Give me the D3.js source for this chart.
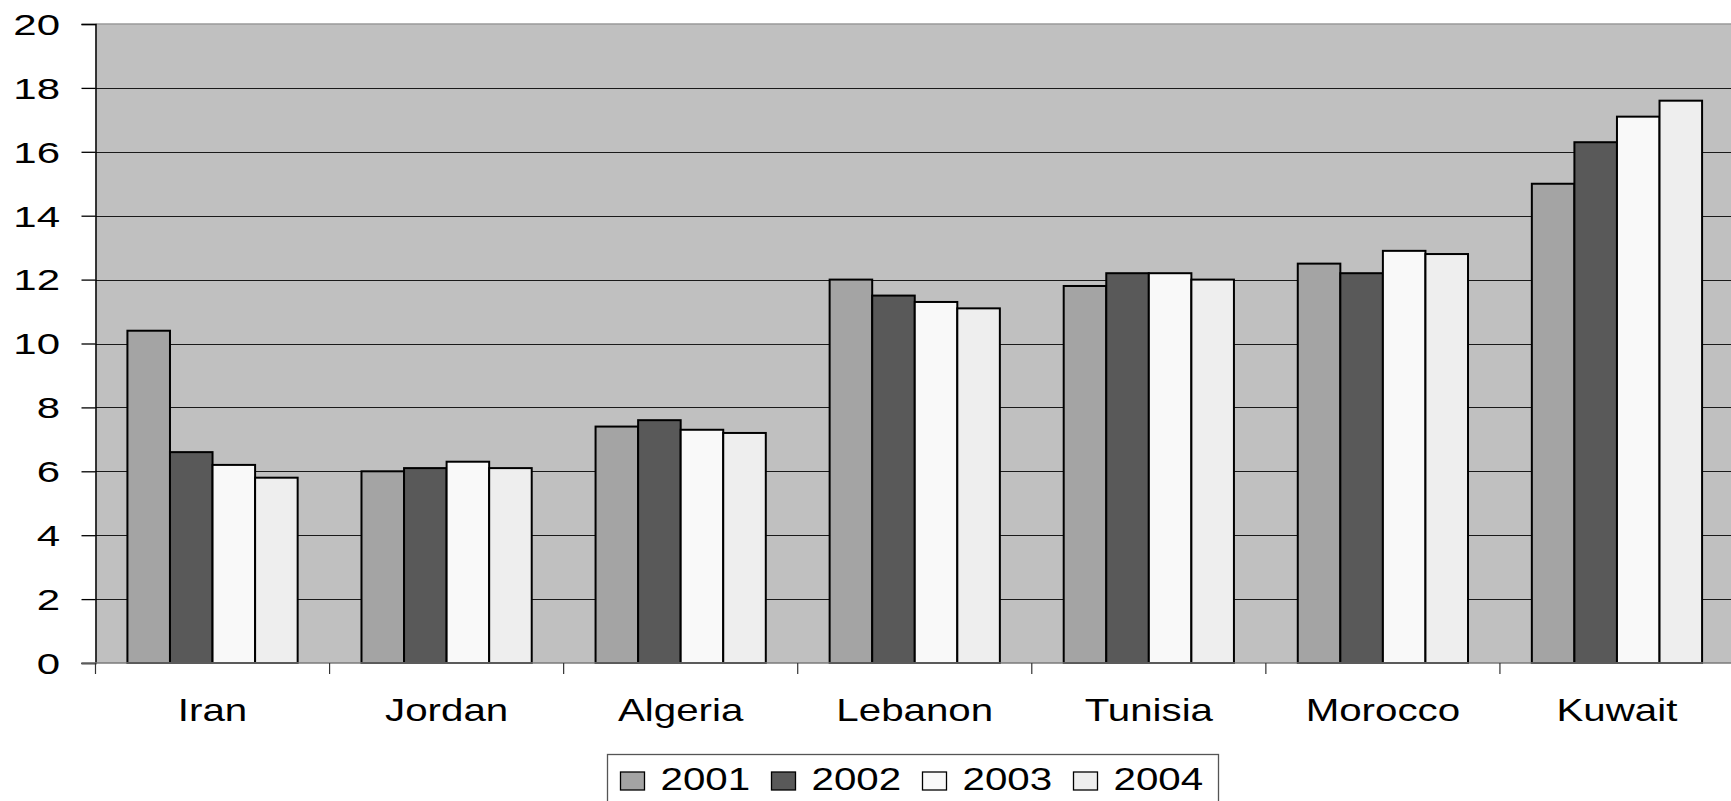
<!DOCTYPE html>
<html>
<head>
<meta charset="utf-8">
<script src="https://cdn.jsdelivr.net/npm/d3@7"></script>
<style>
  html, body { margin: 0; padding: 0; background: #fff; }
  svg { display: block; }
  text { font-family: "Liberation Sans", Arial, sans-serif; fill: #000; }
</style>
</head>
<body>
<svg id="chart" width="1731" height="801"></svg>
<script>
// Countries on the category axis
const countries = ["Iran", "Jordan", "Algeria", "Lebanon", "Tunisia", "Morocco", "Kuwait"];
// Years shown as series
const years = ["2001", "2002", "2003", "2004"];
// Values per year, one entry per country
const v2001 = [10.4, 6.0, 7.4, 12.0, 11.8, 12.5, 15.0];
const v2002 = [6.6, 6.1, 7.6, 11.5, 12.2, 12.2, 16.3];
const v2003 = [6.2, 6.3, 7.3, 11.3, 12.2, 12.9, 17.1];
const v2004 = [5.8, 6.1, 7.2, 11.1, 12.0, 12.8, 17.6];
const yTicks = [0, 2, 4, 6, 8, 10, 12, 14, 16, 18, 20];

const seriesValues = [v2001, v2002, v2003, v2004];
const fills = ["#a4a4a4", "#595959", "#f9f9f9", "#eeeeee"];

// All text is drawn horizontally widened
const textStretch = 1.3;

const svg = d3.select("#chart");
const plot = { left: 95.5, right: 1734, top: 24, bottom: 663 };

const x = d3.scaleBand().domain(countries).range([plot.left, plot.right]).paddingInner(0).paddingOuter(0);
// Bars fill 4/5.5 of each category band (gap width 150%)
const gapRatio = 1.5 / 5.5;
const xInner = d3.scaleBand().domain(years)
  .range([x.bandwidth() * gapRatio / 2, x.bandwidth() * (1 - gapRatio / 2)]);
const y = d3.scaleLinear().domain([0, 20]).range([plot.bottom, plot.top]);

// Plot background
svg.append("rect")
  .attr("x", plot.left).attr("y", plot.top)
  .attr("width", plot.right - plot.left).attr("height", plot.bottom - plot.top)
  .attr("fill", "#c0c0c0");

// Top border of plot area
svg.append("line")
  .attr("x1", plot.left).attr("x2", plot.right)
  .attr("y1", plot.top).attr("y2", plot.top)
  .attr("stroke", "#9a9a9a").attr("stroke-width", 1.5);

// Horizontal gridlines
svg.append("g").selectAll("line")
  .data(yTicks.filter(t => t > 0 && t < 20))
  .join("line")
  .attr("x1", plot.left).attr("x2", plot.right)
  .attr("y1", d => Math.round(y(d)) + 0.5).attr("y2", d => Math.round(y(d)) + 0.5)
  .attr("stroke", "#1a1a1a").attr("stroke-width", 1.2);

// Bars
const groups = svg.append("g").selectAll("g")
  .data(countries)
  .join("g")
  .attr("transform", c => `translate(${x(c)},0)`);

groups.selectAll("rect")
  .data((c, i) => years.map((yr, s) => ({ yr, s, value: seriesValues[s][i] })))
  .join("rect")
  .attr("x", d => xInner(d.yr))
  .attr("width", xInner.bandwidth())
  .attr("y", d => y(d.value))
  .attr("height", d => y(0) - y(d.value))
  .attr("fill", d => fills[d.s])
  .attr("stroke", "#000")
  .attr("stroke-width", 2);

// Y axis: line and ticks from d3, labels drawn wide
const yAxis = d3.axisLeft(y).tickValues(yTicks).tickSize(14).tickFormat("");
const gy = svg.append("g").attr("transform", `translate(${plot.left},0)`).call(yAxis);
gy.select(".domain").attr("stroke", "#000").attr("stroke-width", 1.5);
gy.selectAll(".tick line").attr("stroke", "#000").attr("stroke-width", 1.3);

svg.append("g").selectAll("text")
  .data(yTicks)
  .join("text")
  .attr("transform", d => `translate(60,${y(d)}) scale(1.4,1)`)
  .attr("text-anchor", "end")
  .attr("dy", "0.36em")
  .style("font-size", "30px")
  .text(d => d);

// X axis baseline and category separators
svg.append("line")
  .attr("x1", plot.left - 14).attr("x2", plot.right)
  .attr("y1", plot.bottom).attr("y2", plot.bottom)
  .attr("stroke", "#7a7a7a").attr("stroke-width", 1.5);

const sepX = countries.map(c => x(c)).concat([plot.right]);
svg.append("g").selectAll("line")
  .data(sepX)
  .join("line")
  .attr("x1", d => d).attr("x2", d => d)
  .attr("y1", plot.bottom).attr("y2", plot.bottom + 11)
  .attr("stroke", "#333").attr("stroke-width", 1.2);

// Category labels
svg.append("g").selectAll("text")
  .data(countries)
  .join("text")
  .attr("transform", c => `translate(${x(c) + x.bandwidth() / 2},721) scale(${textStretch},1)`)
  .attr("text-anchor", "middle")
  .style("font-size", "31px")
  .text(c => c);

// Legend
const legend = svg.append("g");
legend.append("rect")
  .attr("x", 607.5).attr("y", 754.5)
  .attr("width", 611).attr("height", 60)
  .attr("fill", "#fff").attr("stroke", "#555").attr("stroke-width", 1.3);

const itemStep = 151;
const items = legend.selectAll("g.item")
  .data(years)
  .join("g")
  .attr("class", "item")
  .attr("transform", (d, i) => `translate(${620.5 + i * itemStep},0)`);

items.append("rect")
  .attr("x", 0).attr("y", 772)
  .attr("width", 24).attr("height", 18)
  .attr("fill", (d, i) => fills[i])
  .attr("stroke", "#000").attr("stroke-width", 1.3);

items.append("text")
  .attr("transform", `translate(40,790) scale(${textStretch},1)`)
  .style("font-size", "31px")
  .text(d => d);
</script>
</body>
</html>
